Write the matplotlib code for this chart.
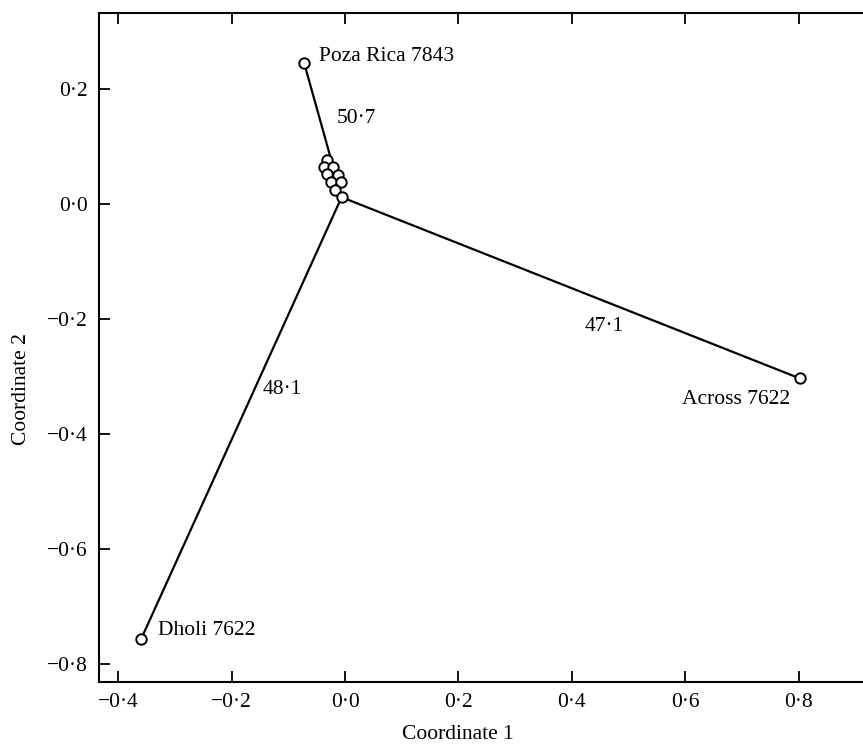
"""Principal coordinates plot: three divergent strains and a tight central cluster."""

import matplotlib

matplotlib.use("Agg")
import matplotlib.pyplot as plt
from matplotlib.ticker import FuncFormatter

plt.rcParams.update({
    "font.family": ["Liberation Serif", "DejaVu Serif"],
    "font.size": 15.5,
    "axes.linewidth": 1.5,
})

# outlying strains (end points of the three arms)
names = ["Poza Rica 7843", "Across 7622", "Dholi 7622"]
outer_x = [-0.072, 0.802, -0.360]
outer_y = [0.245, -0.303, -0.757]

# hub where the arms meet
hub_x = -0.006
hub_y = 0.012

# central cluster of strains
cluster_x = [-0.032, -0.037, -0.021, -0.032, -0.012, -0.025, -0.007, -0.018]
cluster_y = [0.077, 0.064, 0.064, 0.052, 0.050, 0.038, 0.038, 0.025]

# arm lengths written beside each arm
arm_labels = ["50·7", "47·1", "48·1"]
arm_label_x = [-0.014, 0.457, -0.111]
arm_label_y = [0.148, -0.212, -0.322]

xticks = [-0.4, -0.2, 0.0, 0.2, 0.4, 0.6, 0.8]
yticks = [-0.8, -0.6, -0.4, -0.2, 0.0, 0.2]


def fmt(v, pos=None):
    s = f"{v:.1f}".replace(".", "·")
    if s.startswith("-"):
        s = "−" + s[1:]
    return s


fig = plt.figure(figsize=(8.63, 7.44), dpi=100)
ax = fig.add_axes([0.1147, 0.0833, 0.942, 0.899])

for x, y in zip(outer_x, outer_y):
    ax.plot([hub_x, x], [hub_y, y], color="black", lw=1.6, zorder=2)

mk = dict(marker="o", ms=7.5, mfc="white", mec="black", mew=1.4, ls="none", zorder=3)
ax.plot(cluster_x, cluster_y, **mk)
ax.plot([hub_x], [hub_y], **mk)
ax.plot(outer_x, outer_y, **mk)

# strain names
ax.text(-0.046, 0.256, names[0], ha="left", va="center")
ax.text(0.69, -0.340, names[1], ha="center", va="center")
ax.text(-0.330, -0.742, names[2], ha="left", va="center")

for lab, x, y in zip(arm_labels, arm_label_x, arm_label_y):
    ax.text(x, y, lab, ha="center" if lab != "50·7" else "left", va="center")

ax.set_xlim(-0.434, 1.0)
ax.set_ylim(-0.831, 0.332)
ax.set_xticks(xticks)
ax.set_yticks(yticks)
ax.xaxis.set_major_formatter(FuncFormatter(fmt))
ax.yaxis.set_major_formatter(FuncFormatter(fmt))
ax.tick_params(direction="in", top=True, right=True, length=8, width=1.3,
               labelsize=15.5, pad=8)

ax.set_xlabel("Coordinate 1", fontsize=15.5, va="center")
ax.set_ylabel("Coordinate 2", fontsize=15.5, va="center")
ax.xaxis.set_label_coords(0.442, -0.078)
ax.yaxis.set_label_coords(-0.095, 0.438)

fig.savefig("out.png", dpi=100, facecolor="white")
